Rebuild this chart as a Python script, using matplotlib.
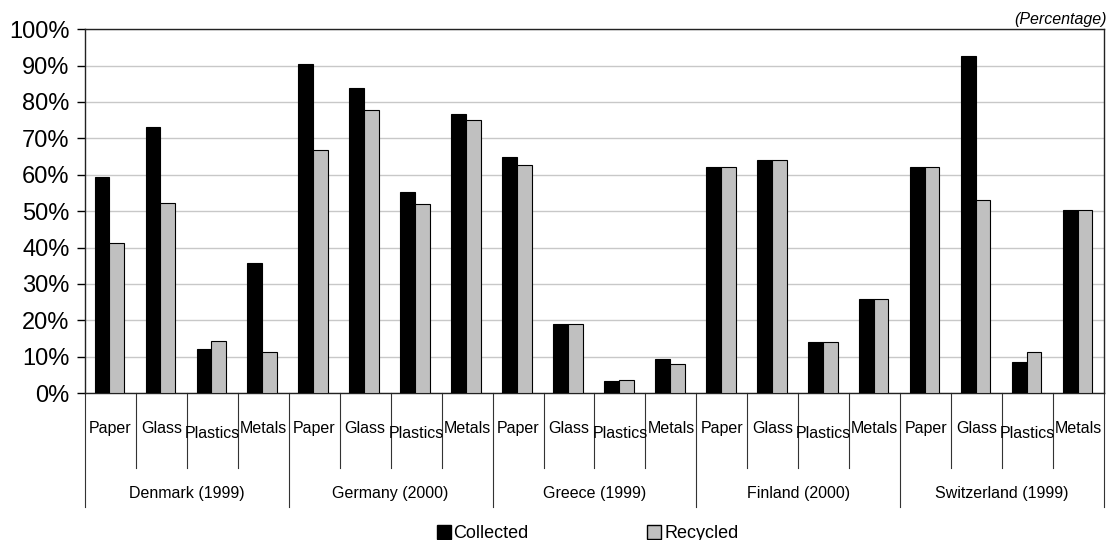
import numpy as np
import matplotlib.pyplot as plt
from matplotlib.lines import Line2D
from matplotlib.transforms import blended_transform_factory

plt.rcParams['font.family'] = ['Liberation Sans', 'DejaVu Sans']

countries = ["Denmark (1999)", "Germany (2000)", "Greece (1999)", "Finland (2000)", "Switzerland (1999)"]
materials = ["Paper", "Glass", "Plastics", "Metals"]

collected = [59.3, 73.0, 12.2, 35.8,
             90.5, 83.7, 55.3, 76.7,
             64.8, 19.0, 3.3, 9.3,
             62.0, 64.0, 14.0, 25.8,
             62.0, 92.5, 8.5, 50.4]
recycled = [41.3, 52.2, 14.4, 11.3,
            66.7, 77.8, 52.0, 75.0,
            62.7, 19.0, 3.7, 8.0,
            62.0, 64.0, 14.0, 25.8,
            62.0, 53.0, 11.3, 50.4]

fig = plt.figure(figsize=(11.09, 5.4), dpi=100)
ax = fig.add_axes([0.0766, 0.272, 0.9189, 0.674])

n = len(collected)
x = np.arange(n)
w = 0.29
ax.bar(x - w / 2 - 0.02, collected, w, color='black', edgecolor='black', linewidth=0.8, zorder=3)
ax.bar(x + w / 2 - 0.02, recycled, w, color='#c0c0c0', edgecolor='black', linewidth=0.8, zorder=3)

ax.set_xlim(-0.5, n - 0.5)
ax.set_ylim(0, 100)
ax.set_yticks(np.arange(0, 101, 10))
ax.set_yticklabels([f"{v}%" for v in range(0, 101, 10)], fontsize=17)
ax.yaxis.grid(True, color='#c8c8c8', linewidth=1, zorder=0)
ax.tick_params(axis='y', length=6, width=1, pad=5)
ax.set_xticks([])
for s in ax.spines.values():
    s.set_color('#222222')
    s.set_linewidth(1)

trans = blended_transform_factory(ax.transData, ax.transAxes)
for i in range(n + 1):
    xb = i - 0.5
    depth = -0.313 if i % 4 == 0 else -0.206
    ax.plot([xb, xb], [0, depth], color='#333333', linewidth=0.8, transform=trans, clip_on=False)

for i in range(n):
    lab = materials[i % 4]
    yy = -0.11 if lab == "Plastics" else -0.096
    ax.text(i, yy, lab, transform=trans, ha='center', va='center', fontsize=11.5)

for g, name in enumerate(countries):
    ax.text(g * 4 + 1.5, -0.275, name, transform=trans, ha='center', va='center', fontsize=11.5)

fig.text(0.998, 0.963, "(Percentage)", ha='right', va='center', fontsize=11.5, style='italic')

handles = [Line2D([], [], marker='s', linestyle='none', markersize=9.5, markerfacecolor='black', markeredgecolor='black'),
           Line2D([], [], marker='s', linestyle='none', markersize=9.5, markerfacecolor='#c0c0c0', markeredgecolor='black')]
fig.legend(handles, ["Collected", "Recycled"], loc='center', bbox_to_anchor=(0.53, 0.012), ncol=2,
           frameon=False, fontsize=13, handlelength=0.7, handletextpad=0.2, columnspacing=6.6,
           borderpad=0, borderaxespad=0)

fig.savefig("out.png", dpi=100)
